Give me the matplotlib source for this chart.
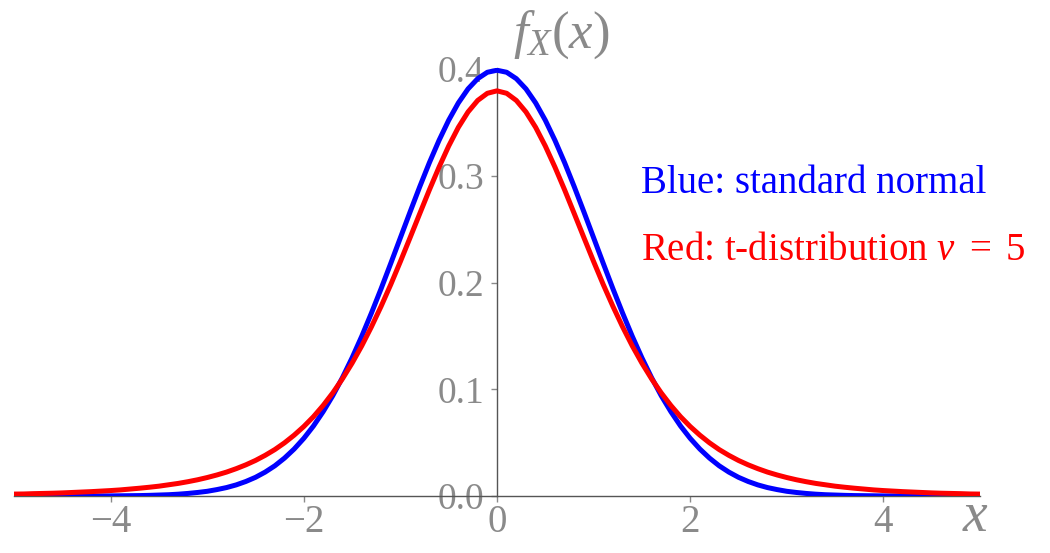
import matplotlib
matplotlib.use("Agg")
import matplotlib.pyplot as plt
import numpy as np

# x grid and curve values (symmetric about 0)
x_half = [0.0, 0.1, 0.2, 0.3, 0.4, 0.5, 0.6, 0.7, 0.8, 0.9,
          1.0, 1.1, 1.2, 1.3, 1.4, 1.5, 1.6, 1.7, 1.8, 1.9,
          2.0, 2.1, 2.2, 2.3, 2.4, 2.5, 2.6, 2.7, 2.8, 2.9,
          3.0, 3.1, 3.2, 3.3, 3.4, 3.5, 3.6, 3.7, 3.8, 3.9,
          4.0, 4.1, 4.2, 4.3, 4.4, 4.5, 4.6, 4.7, 4.8, 4.9, 5.0]

normal_half = [0.3989, 0.3970, 0.3910, 0.3814, 0.3683, 0.3521, 0.3332, 0.3123, 0.2897, 0.2661,
               0.2420, 0.2179, 0.1942, 0.1714, 0.1497, 0.1295, 0.1109, 0.0940, 0.0790, 0.0656,
               0.0540, 0.0440, 0.0355, 0.0283, 0.0224, 0.0175, 0.0136, 0.0104, 0.0079, 0.0060,
               0.0044, 0.0033, 0.0024, 0.0017, 0.0012, 0.0009, 0.0006, 0.0004, 0.0003, 0.0002,
               0.0001, 0.0001, 0.0001, 0.0000, 0.0000, 0.0000, 0.0000, 0.0000, 0.0000, 0.0000, 0.0000]

t5_half = [0.3796, 0.3773, 0.3706, 0.3598, 0.3454, 0.3279, 0.3081, 0.2868, 0.2645, 0.2420,
           0.2197, 0.1981, 0.1777, 0.1585, 0.1407, 0.1245, 0.1098, 0.0966, 0.0848, 0.0743,
           0.0651, 0.0570, 0.0498, 0.0435, 0.0381, 0.0333, 0.0292, 0.0256, 0.0224, 0.0197,
           0.0173, 0.0152, 0.0134, 0.0118, 0.0105, 0.0092, 0.0082, 0.0073, 0.0065, 0.0057,
           0.0051, 0.0046, 0.0041, 0.0037, 0.0033, 0.0029, 0.0026, 0.0024, 0.0022, 0.0019, 0.0018]

x_ticks = [-4, -2, 0, 2, 4]
y_ticks = [0.0, 0.1, 0.2, 0.3, 0.4]

x_vals = np.concatenate([-np.array(x_half[:0:-1]), x_half])
normal_vals = np.concatenate([normal_half[:0:-1], normal_half])
t5_vals = np.concatenate([t5_half[:0:-1], t5_half])

plt.rcParams["font.family"] = "Liberation Serif"
plt.rcParams["mathtext.fontset"] = "custom"
plt.rcParams["mathtext.rm"] = "Liberation Serif"
plt.rcParams["mathtext.it"] = "Liberation Serif:italic"

grey = '#8a8a8a'

fig = plt.figure(figsize=(10.5, 5.53), dpi=100)
ax = fig.add_axes([14 / 1050, 57 / 553, 966 / 1050, 428 / 553])

ax.plot(x_vals, normal_vals, color='blue', lw=3.6, zorder=3)
ax.plot(x_vals, t5_vals, color='red', lw=3.6, zorder=3)

ax.set_xlim(-5, 5)
ax.set_ylim(0, 0.401)

ax.spines['left'].set_position(('data', 0))
ax.spines['right'].set_visible(False)
ax.spines['top'].set_visible(False)
for s in ['left', 'bottom']:
    ax.spines[s].set_color('#555555')
    ax.spines[s].set_linewidth(1.0)

ax.set_xticks(x_ticks)
ax.set_xticklabels(['\u2212' + str(-t) if t < 0 else str(t) for t in x_ticks])
ax.set_yticks(y_ticks)
ax.set_yticklabels(['%.1f' % t for t in y_ticks])
ax.tick_params(colors=grey, labelsize=28, length=4, width=1)
ax.tick_params(axis='y', pad=5, labelsize=27)
ax.tick_params(axis='x', pad=2)

ax.set_xlabel('$x$', fontsize=40, color=grey, ha='center', va='center')
ax.xaxis.set_label_coords(0.995, -0.05)
ax.set_ylabel('$f_X(x)$', fontsize=38, color=grey, rotation=0, ha='center', va='center')
ax.yaxis.set_label_coords(0.567, 1.077)

ax.text(1.49, 0.293, 'Blue: standard normal', color='blue', fontsize=28, va='center')
ax.text(1.49, 0.230, r'Red: t-distribution $\nu\ =\ \mathit{5}$', color='red', fontsize=28, va='center')

plt.savefig('out.png', dpi=100)
